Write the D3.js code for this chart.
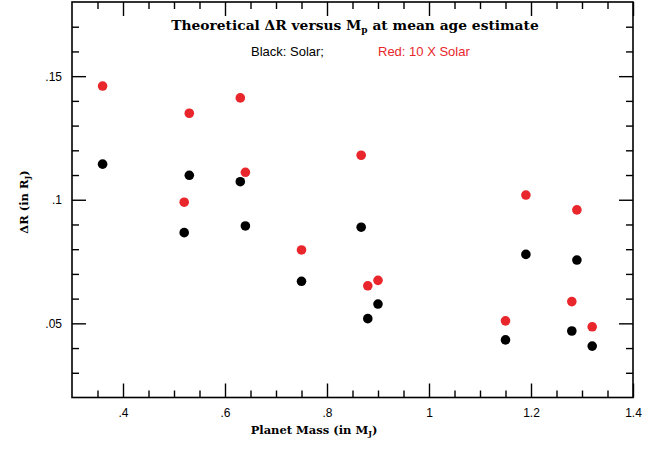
<!DOCTYPE html>
<html>
<head>
<meta charset="utf-8">
<script src="https://cdn.jsdelivr.net/npm/d3@7"></script>
<style>
  body { margin: 0; background: #fff; }
  .axis path { display: none; }
  .axis line { stroke: #000; stroke-width: 1.4; }
  .axis text { font-family: "Liberation Sans", Arial, sans-serif; font-size: 12px; fill: #000; }
  .slab { font-family: "DejaVu Serif", serif; font-weight: bold; fill: #000; }
</style>
</head>
<body>
<div id="chart"></div>
<script>
var masses = [0.36, 0.53, 0.52, 0.63, 0.64, 0.75, 0.867, 0.88, 0.90, 1.15, 1.19, 1.29, 1.28, 1.32];
var solar  = [0.1144, 0.1099, 0.0867, 0.1073, 0.0894, 0.0670, 0.0889, 0.0519, 0.0578, 0.0433, 0.0779, 0.0756, 0.0469, 0.0408];
var tenSolar = [0.1460, 0.1350, 0.0990, 0.1412, 0.1111, 0.0797, 0.1180, 0.0652, 0.0674, 0.0510, 0.1019, 0.0959, 0.0588, 0.0486];

var xMajor = [0.4, 0.6, 0.8, 1.0, 1.2, 1.4];
var xLabels = [".4", ".6", ".8", "1", "1.2", "1.4"];
var yMajor = [0.05, 0.1, 0.15];
var yLabels = [".05", ".1", ".15"];

var
  width = 665,
  height = 449,
  margin = {top: 2, right: 32, bottom: 52, left: 72};

var svg = d3.select("#chart")
  .append("svg")
  .attr("width", width)
  .attr("height", height);

var x = d3.scaleLinear()
  .domain([0.3, 1.4])
  .range([margin.left, width - margin.right]);

var y = d3.scaleLinear()
  .domain([0.02, 0.18])
  .range([height - margin.bottom + 0.5, margin.top]);

var xMinor = d3.range(0.35, 1.4, 0.05).filter(function(v) {
  return Math.abs(Math.round(v * 5) - v * 5) > 1e-6;
});
var yMinor = d3.range(0.03, 0.18, 0.01).filter(function(v) {
  return Math.abs(Math.round(v * 20) - v * 20) > 1e-6;
});

var bottomY = y.range()[0], topY = y.range()[1];
var leftX = x.range()[0], rightX = x.range()[1];

// minor ticks on all four sides
svg.append("g").attr("class", "axis")
  .attr("transform", "translate(0," + bottomY + ")")
  .call(d3.axisBottom(x).tickValues(xMinor).tickSize(-7).tickFormat(""));
svg.append("g").attr("class", "axis")
  .attr("transform", "translate(0," + topY + ")")
  .call(d3.axisTop(x).tickValues(xMinor).tickSize(-7).tickFormat(""));
svg.append("g").attr("class", "axis")
  .attr("transform", "translate(" + leftX + ",0)")
  .call(d3.axisLeft(y).tickValues(yMinor).tickSize(-7).tickFormat(""));
svg.append("g").attr("class", "axis")
  .attr("transform", "translate(" + rightX + ",0)")
  .call(d3.axisRight(y).tickValues(yMinor).tickSize(-7).tickFormat(""));

// major ticks
svg.append("g").attr("class", "axis")
  .attr("transform", "translate(0," + bottomY + ")")
  .call(d3.axisBottom(x).tickValues(xMajor).tickSize(-14).tickPadding(11)
    .tickFormat(function(d, i) { return xLabels[i]; }));
svg.append("g").attr("class", "axis")
  .attr("transform", "translate(0," + topY + ")")
  .call(d3.axisTop(x).tickValues(xMajor).tickSize(-14).tickFormat(""));
svg.append("g").attr("class", "axis")
  .attr("transform", "translate(" + leftX + ",0)")
  .call(d3.axisLeft(y).tickValues(yMajor).tickSize(-14).tickPadding(10)
    .tickFormat(function(d, i) { return yLabels[i]; }));
svg.append("g").attr("class", "axis")
  .attr("transform", "translate(" + rightX + ",0)")
  .call(d3.axisRight(y).tickValues(yMajor).tickSize(-14).tickFormat(""));

// frame
svg.append("rect")
  .attr("x", leftX)
  .attr("y", topY)
  .attr("width", rightX - leftX)
  .attr("height", bottomY - topY)
  .attr("fill", "none")
  .attr("stroke", "#000")
  .attr("stroke-width", 1.6);

// points
var pts = masses.map(function(m, i) { return {m: m, s: solar[i], t: tenSolar[i]}; });

svg.selectAll(".solar")
  .data(pts)
  .enter().append("circle")
    .attr("class", "solar")
    .attr("cx", function(d) { return x(d.m); })
    .attr("cy", function(d) { return y(d.s); })
    .attr("r", 4.8)
    .attr("fill", "#000");

svg.selectAll(".ten")
  .data(pts)
  .enter().append("circle")
    .attr("class", "ten")
    .attr("cx", function(d) { return x(d.m); })
    .attr("cy", function(d) { return y(d.t); })
    .attr("r", 4.8)
    .attr("fill", "#e8262b");

// title
var title = svg.append("text")
  .attr("class", "slab")
  .attr("x", 355)
  .attr("y", 30)
  .attr("text-anchor", "middle")
  .attr("font-size", "13.8px");
title.append("tspan").text("Theoretical \u0394R versus M");
title.append("tspan").attr("font-size", "9px").attr("dy", 3).text("p");
title.append("tspan").attr("dy", -3).text(" at mean age estimate");

svg.append("text")
  .attr("x", 251)
  .attr("y", 56)
  .style("font", "13px 'Liberation Sans', Arial, sans-serif")
  .attr("fill", "#000")
  .text("Black: Solar;");

svg.append("text")
  .attr("x", 378)
  .attr("y", 56)
  .style("font", "13px 'Liberation Sans', Arial, sans-serif")
  .attr("fill", "#e8262b")
  .text("Red: 10 X Solar");

// axis titles
var xt = svg.append("text")
  .attr("class", "slab")
  .attr("x", 314)
  .attr("y", 434)
  .attr("text-anchor", "middle")
  .attr("font-size", "11.5px");
xt.append("tspan").text("Planet Mass (in M");
xt.append("tspan").attr("font-size", "8px").attr("dy", 2).text("J");
xt.append("tspan").attr("dy", -2).text(")");

var yt = svg.append("text")
  .attr("class", "slab")
  .attr("transform", "translate(28,202) rotate(-90)")
  .attr("text-anchor", "middle")
  .attr("font-size", "11.5px");
yt.append("tspan").text("\u0394R (in R");
yt.append("tspan").attr("font-size", "8px").attr("dy", 2).text("J");
yt.append("tspan").attr("dy", -2).text(")");
</script>
</body>
</html>
